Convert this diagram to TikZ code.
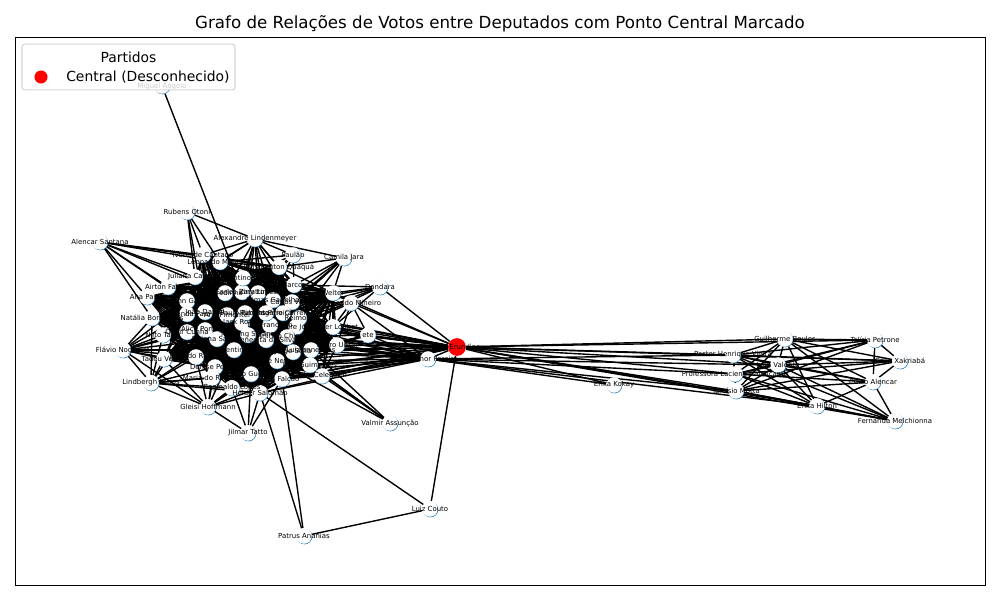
\documentclass[tikz,border=0pt]{standalone}
\usepackage{fontspec}
\setmainfont{DejaVu Sans}
\usetikzlibrary{backgrounds}
\definecolor{azul}{HTML}{1F77B4}
\tikzstyle{deputado}=[circle,fill=white,minimum size=11.2pt,inner sep=0pt,preaction={fill=azul,transform canvas={shift={(.35pt,-.4pt)}}}]
\tikzstyle{central}=[circle,fill=red,minimum size=12.8pt,inner sep=0pt]
\tikzstyle{rotulo}=[inner sep=0pt,font=\fontsize{5}{6}\selectfont]
\tikzstyle{voto}=[line width=1pt]
\tikzstyle{legenda}=[inner sep=0pt,font=\fontsize{10}{12}\selectfont]
\def\nucleo{bohn/187/301/Bohn Gass,joao/205/312/João Daniel,dilvanda/187/314/Dilvanda Faro,
        alfredinho/225/293/Alfredinho,rosario/242/292/Carlos Zarattini,iriny/258/293/Iriny Lopes,
        marcon/294/285/Marcon,zarattini/273/300/Dimas Gadelha,veras/292/302/Carlos Veras,
        rogerio/283/313/Rogério Correia,reimont/299/318/Reimont,padre/296/327/Padre João,
        francisco/270/325/Dr. Francisco,jack/242/323/Jack Rocha,pimentel/227/315/Ana Pimentel,
        pimenta/245/313/Paulo Pimenta,pereira/266/313/Rubens Pereira,dimas/205/330/Alice Portugal,
        odair/187/332/Odair Cunha,daiana/217/339/Daiana Santos,merlong/248/335/Merlong Solano,
        benedita/266/340/Benedita da Silva,arlindo/287/337/Arlindo Chinaglia,vicentinho/234/350/Vicentinho,
        zeneto/277/361/Zé Neto,solla/293/352/Jorge Solla,luizianne/311/350/Luizianne Lins,
        joseildo/196/357/Joseildo Ramos,denise/215/367/Denise Pessoa,guedes/251/374/Paulo Guedes,
        falcao/282/379/Rui Falcão,guimaraes/310/365/José Guimarães,welter/333/293/Welter,
        vander/333/327/Vander Loubet,uczai/337/345/Pedro Uczai,florentino/243/278/Florentino Neto,
        washington/279/267/Washington Quaquá}
\def\anel{ivoneide/203/255/Ivoneide Caetano,leonardo/220/262/Leonardo Monteiro,juliana/195/277/Juliana Cardoso,
        airton/168/287/Airton Faleiro,anapaula/147/297/Ana Paula,natalia/152/318/Natália Bonavides,
        nilto/163/335/Nilto Tatto,tadeu/164/359/Tadeu Veneri,maria/212/378/Maria do Rosário,
        reginaldo/232/388/Reginaldo Lopes,helder/260/393/Helder Salomão,kiko/322/376/Kiko Celeguim}
\def\fora{miguel/162/86/Miguel Ângelo,rubens/187/212/Rubens Otoni,alencar/100/242/Alencar Santana,
        lindenmeyer/255/239/Alexandre Lindenmeyer,paulao/293/255/Paulão,camila/344/258/Camila Jara,
        dandara/380/287/Dandara,mineiro/351/303/Fernando Mineiro,ete/368/335/ete,
        waldenor/428/359/Waldenor Pereira,flavio/123/350/Flávio Nogueira,lindbergh/151/383/Lindbergh Farias,
        gleisi/208/407/Gleisi Hoffmann,jilmar/248/433/Jilmar Tatto,valmir/390/423/Valmir Assunção,
        couto/430/509/Luiz Couto,patrus/304/536/Patrus Ananias,kokay/614/385/Erika Kokay}
\def\direita{guilherme/785/339/Guilherme Boulos,pastor/733/355/Pastor Henrique Vieira,ivan/778/365/Ivan Valente,
        professora/735/374/Professora Luciene Cavalcante,tarcisio/736/391/Tarcísio Motta,hilton/817/406/Erika Hilton,
        taliria/875/340/Talíria Petrone,celia/900/361/Célia Xakriabá,chico/873/382/Chico Alencar,
        fernanda/895/421/Fernanda Melchionna}
\edef\todos{\nucleo,\anel,\fora,\direita}
\begin{document}
\begin{tikzpicture}[x=0.72pt,y=-0.72pt]
        \useasboundingbox (0,0) rectangle (1000,600);
        % deputados
        \foreach \a/\x/\y/\t in \todos {
                \node at (\x,\y) [deputado] (\a) {};
        }
        \node at (457,347) [central] (erundina) {};
        \foreach \a/\x/\y/\t in \todos {
                \node at (\a) [rotulo] (r\a) {\t};
        }
        \node at (465,347) [rotulo] (rerundina) {Erundina};
        % votos
        \begin{scope}[on background layer]
                \foreach \a/\x/\y/\t [count=\i] in \nucleo {
                        \foreach \b/\u/\v/\s [count=\j] in \nucleo {
                                \ifnum\i<\j \draw [voto] (\a) -- (\b); \fi
                        }
                }
                \foreach \a/\x/\y/\t in \anel {
                        \foreach \b/\u/\v/\s in \nucleo {
                                \draw [voto] (\a) -- (\b);
                        }
                }
                \foreach \a/\l in {
                        alencar/{ivoneide,leonardo,juliana,airton,anapaula,natalia,bohn,alfredinho,washington},
                        rubens/{ivoneide,leonardo,juliana,joao,lindenmeyer},
                        lindenmeyer/{leonardo,ivoneide,juliana,florentino,washington,alfredinho,rosario,iriny,marcon,zarattini,veras,pereira,pimenta},
                        paulao/{washington,marcon,florentino,iriny,zarattini,lindenmeyer,leonardo},
                        camila/{washington,marcon,veras,rogerio,welter,francisco,pereira,reimont,lindenmeyer},
                        dandara/{welter,veras,marcon,rogerio,reimont,padre,vander,erundina},
                        mineiro/{welter,vander,padre,reimont,rogerio,veras,ete,uczai,erundina,waldenor},
                        ete/{vander,padre,uczai,solla,arlindo,erundina,waldenor,luizianne},
                        flavio/{natalia,nilto,tadeu,bohn,dimas,odair,daiana,joseildo,denise,vicentinho,lindbergh,dilvanda},
                        lindbergh/{nilto,tadeu,joseildo,denise,maria,reginaldo,guedes,helder,natalia,gleisi,odair,daiana},
                        gleisi/{reginaldo,helder,guedes,maria,denise,joseildo,tadeu,vicentinho,jilmar,falcao,zeneto,flavio},
                        jilmar/{helder,guedes,reginaldo,falcao},
                        valmir/{kiko,guimaraes,solla,zeneto,luizianne},
                        erundina/{vander,uczai,luizianne,guimaraes,kiko,padre,reimont,solla,zeneto,falcao,helder,arlindo,reginaldo,welter,rogerio,benedita,francisco,guedes,merlong},
                        waldenor/{vander,uczai,luizianne,guimaraes,kiko,padre,solla,zeneto,falcao,helder,arlindo,erundina,reimont,benedita,francisco,guedes,merlong},
                        miguel/{rosario},
                        couto/{helder,patrus,erundina},
                        patrus/{helder,falcao},
                        kokay/{erundina,waldenor},
                        hilton/{chico,fernanda,erundina,waldenor},
                        taliria/{celia,chico,erundina},
                        chico/{celia,fernanda},
                        erundina/{guilherme,pastor,ivan,professora,tarcisio,celia,fernanda},
                        waldenor/{pastor,ivan,professora,tarcisio}} {
                        \foreach \b in \l {
                                \draw [voto] (\a) -- (\b);
                        }
                }
                \foreach \a in {guilherme,pastor,ivan,professora,tarcisio} {
                        \foreach \b in {hilton,taliria,celia,chico,fernanda} {
                                \draw [voto] (\a) -- (\b);
                        }
                }
                \foreach \a/\b in {guilherme/pastor,guilherme/ivan,guilherme/professora,guilherme/tarcisio,pastor/ivan,pastor/professora,pastor/tarcisio,ivan/professora,ivan/tarcisio,professora/tarcisio} {
                        \draw [voto] (\a) -- (\b);
                }
        \end{scope}
        % moldura e legenda
        \node at (500,24) [font=\fontsize{12}{14}\selectfont,inner sep=0pt] (titulo) {Grafo de Relações de Votos entre Deputados com Ponto Central Marcado};
        \node at (500,311) [draw=black,line width=.6pt,minimum width=698.4pt,minimum height=394.6pt,inner sep=0pt,outer sep=0pt] (moldura) {};
        \node at (128.5,67) [draw=black!20,fill=white,fill opacity=.8,draw opacity=.8,rounded corners=2pt,line width=.8pt,minimum width=153.4pt,minimum height=33pt,inner sep=0pt] (caixa) {};
        \node at (128.5,57) [legenda] (partidos) {Partidos};
        \node at (41,77) [circle,fill=red,minimum size=9.4pt,inner sep=0pt] (marca) {};
        \node at (66,77) [legenda,anchor=west] (desconhecido) {Central (Desconhecido)};
\end{tikzpicture}
\end{document}
